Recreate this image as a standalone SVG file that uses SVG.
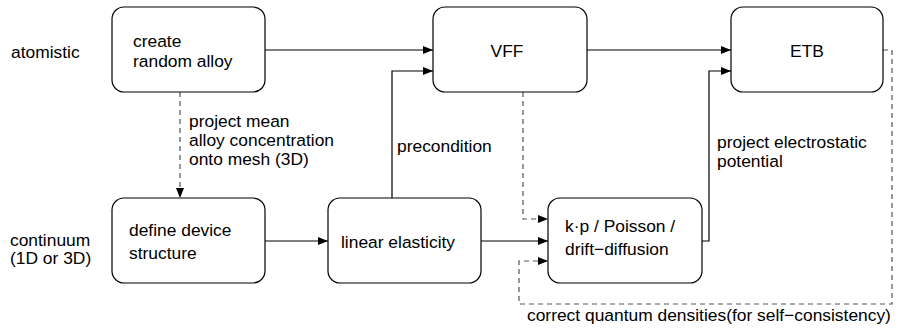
<svg xmlns="http://www.w3.org/2000/svg" width="902" height="328" viewBox="0 0 902 328">
  <defs>
    <marker id="arrow" viewBox="0 0 10 8" refX="10" refY="4" markerWidth="10" markerHeight="8" markerUnits="userSpaceOnUse" orient="auto">
      <path d="M0,0 L10,4 L0,8 z" fill="#000"/>
    </marker>
    <style>
      .box { fill: #fff; stroke: #000; stroke-width: 1.2; }
      .txt { font-family: "Liberation Sans", Arial, sans-serif; font-size: 17.4px; fill: #000; }
      .mid { text-anchor: middle; }
      .solid { fill: none; stroke: #000; stroke-width: 1.2; }
      .dash { fill: none; stroke: #555; stroke-width: 1.2; stroke-dasharray: 5 4; }
    </style>
  </defs>
  <rect width="902" height="328" fill="#fff"/>

  <!-- row labels -->
  <text class="txt" x="11" y="58">atomistic</text>
  <text class="txt" x="10" y="246">continuum</text>
  <text class="txt" x="10" y="264">(1D or 3D)</text>

  <!-- connectors -->
  <g id="connectors">
    <path class="solid" d="M265,50 H433" marker-end="url(#arrow)"/>
    <path class="solid" d="M392,198 V71 H433" marker-end="url(#arrow)"/>
    <path class="solid" d="M587,50 H731" marker-end="url(#arrow)"/>
    <path class="solid" d="M702,241 H709 V71 H731" marker-end="url(#arrow)"/>
    <path class="solid" d="M265,241 H328" marker-end="url(#arrow)"/>
    <path class="solid" d="M481,241 H548" marker-end="url(#arrow)"/>
    <path class="dash" d="M180,92 V198" marker-end="url(#arrow)"/>
    <path class="dash" d="M523,92 V219 H548" marker-end="url(#arrow)"/>
    <path class="dash" d="M883,50 H892 V304 H519 V261 H548" marker-end="url(#arrow)"/>
    <text class="txt" x="189" y="127">project mean</text>
    <text class="txt" x="189" y="146">alloy concentration</text>
    <text class="txt" x="189" y="165">onto mesh (3D)</text>
    <text class="txt" x="397" y="152">precondition</text>
    <text class="txt" x="717" y="148">project electrostatic</text>
    <text class="txt" x="717" y="167">potential</text>
    <text class="txt" x="527" y="321">correct quantum densities(for self−consistency)</text>
  </g>

  <!-- nodes -->
  <g id="create-alloy">
    <rect class="box" x="112" y="7" width="153" height="85" rx="12"/>
    <text class="txt" x="133" y="47">create</text>
    <text class="txt" x="133" y="67">random alloy</text>
  </g>
  <g id="vff">
    <rect class="box" x="433" y="7" width="154" height="85" rx="12"/>
    <text class="txt mid" x="507" y="57">VFF</text>
  </g>
  <g id="etb">
    <rect class="box" x="731" y="7" width="152" height="85" rx="12"/>
    <text class="txt mid" x="807" y="57">ETB</text>
  </g>
  <g id="device-structure">
    <rect class="box" x="112" y="198" width="153" height="85" rx="12"/>
    <text class="txt" x="129" y="236">define device</text>
    <text class="txt" x="129" y="259">structure</text>
  </g>
  <g id="linear-elasticity">
    <rect class="box" x="328" y="198" width="153" height="85" rx="12"/>
    <text class="txt" x="341" y="248">linear elasticity</text>
  </g>
  <g id="kp-poisson">
    <rect class="box" x="548" y="198" width="154" height="85" rx="12"/>
    <text class="txt" x="565" y="232">k·p / Poisson /</text>
    <text class="txt" x="565" y="255">drift−diffusion</text>
  </g>
</svg>
